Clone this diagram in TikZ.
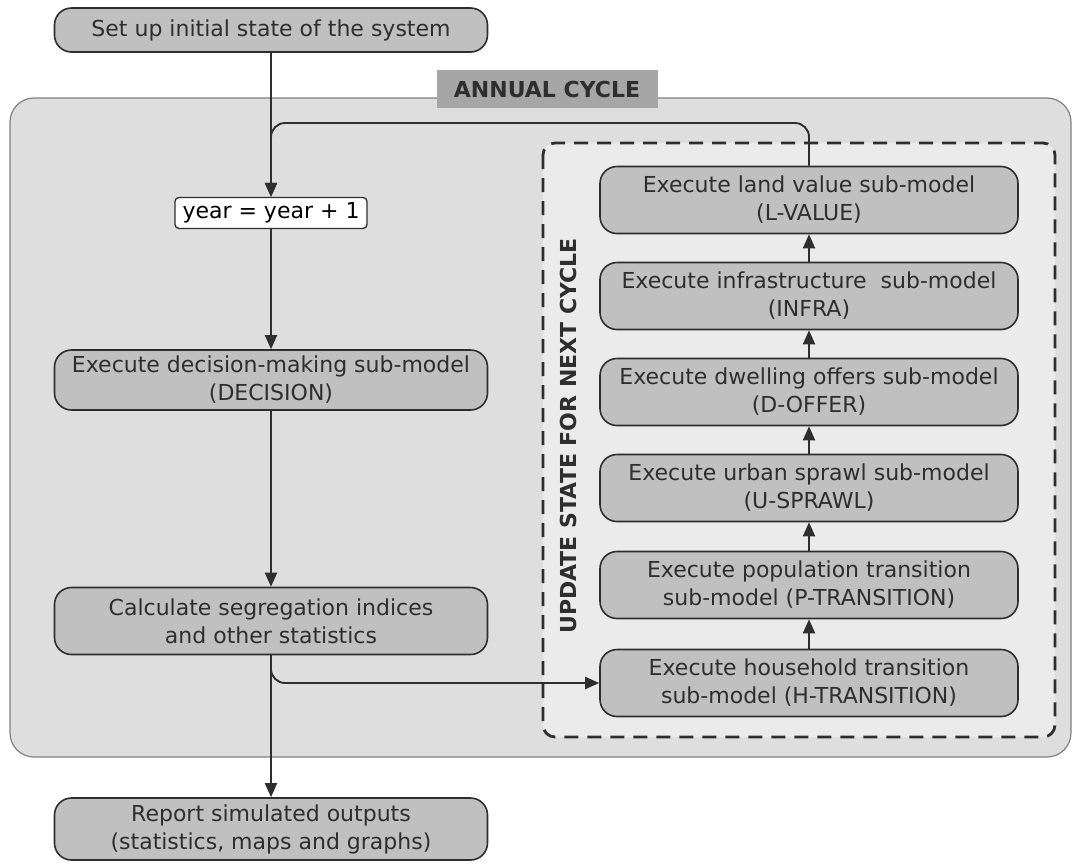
\documentclass[tikz,border=0pt]{standalone}
\usepackage{fontspec}
\setmainfont{DejaVu Sans}
\usetikzlibrary{arrows.meta}
\definecolor{nodegray}{HTML}{C0C0C0}
\definecolor{framegray}{HTML}{DEDEDE}
\definecolor{innergray}{HTML}{EBEBEB}
\definecolor{taggray}{HTML}{A6A6A6}
\definecolor{inkgray}{HTML}{2E2E2E}
\begin{document}
\begin{tikzpicture}[x=1pt, y=-1pt,
    process/.style={draw=inkgray, line width=1.6pt, fill=nodegray,
        rounded corners=17pt, align=center, inner sep=2pt,
        font=\fontsize{22}{28}\selectfont, text=inkgray},
    counter/.style={draw=inkgray, line width=1.3pt, fill=white,
        rounded corners=4pt, minimum width=192pt, minimum height=31pt,
        inner sep=2pt, font=\fontsize{22}{26}\selectfont, text=black},
    tag/.style={fill=taggray, minimum width=221pt, minimum height=38pt,
        font=\fontsize{22}{26}\selectfont\bfseries, text=inkgray},
    edge/.style={draw=inkgray, line width=1.9pt,
        -{Triangle[length=14pt, width=12pt]}}
]
    \useasboundingbox (0,0) rectangle (1075,863);
    % frames
    \draw[draw=gray, line width=1.2pt, fill=framegray, rounded corners=24pt]
        (10,98) rectangle (1071,757);
    \node[tag] (annual) at (547,89) {ANNUAL CYCLE};
    \draw[draw=inkgray, line width=2.8pt, dash pattern=on 14pt off 9pt,
        fill=innergray, rounded corners=12pt] (543,143) rectangle (1055,737);
    \node[rotate=90, font=\fontsize{22}{26}\selectfont\bfseries, text=inkgray]
        (update) at (568,436) {UPDATE STATE FOR NEXT CYCLE};
    % main column
    \node[process, minimum width=433pt, minimum height=44pt] (init) at (271,30)
        {Set up initial state of the system};
    \node[counter] (year) at (271,213) {year = year + 1};
    \node[process, minimum width=433pt, minimum height=60pt] (decision) at (271,380)
        {Execute decision-making sub-model\\(DECISION)};
    \node[process, minimum width=433pt, minimum height=67pt] (calc) at (271,621)
        {Calculate segregation indices\\and other statistics};
    \node[process, minimum width=433pt, minimum height=62pt] (report) at (271,829)
        {Report simulated outputs\\(statistics, maps and graphs)};
    % update column
    \node[process, minimum width=418pt, minimum height=67pt] (lvalue) at (809,200)
        {Execute land value sub-model\\(L-VALUE)};
    \node[process, minimum width=418pt, minimum height=67pt] (infra) at (809,296)
        {Execute infrastructure\ \ sub-model\\(INFRA)};
    \node[process, minimum width=418pt, minimum height=67pt] (doffer) at (809,392)
        {Execute dwelling offers sub-model\\(D-OFFER)};
    \node[process, minimum width=418pt, minimum height=67pt] (usprawl) at (809,488)
        {Execute urban sprawl sub-model\\(U-SPRAWL)};
    \node[process, minimum width=418pt, minimum height=67pt] (ptrans) at (809,585)
        {Execute population transition\\sub-model (P-TRANSITION)};
    \node[process, minimum width=418pt, minimum height=67pt] (htrans) at (809,683)
        {Execute household transition\\sub-model (H-TRANSITION)};
    \coordinate (bend) at (271,123);
    % connectors
    \draw[edge] (init) -- (year);
    \draw[edge, rounded corners=14pt] (lvalue.north) |- (bend) -- (year.north);
    \draw[edge] (year) -- (decision);
    \draw[edge] (decision) -- (calc);
    \draw[edge] (calc) -- (report);
    \draw[edge, rounded corners=14pt] (calc.south) |- (htrans.west);
    \draw[edge] (htrans) -- (ptrans);
    \draw[edge] (ptrans) -- (usprawl);
    \draw[edge] (usprawl) -- (doffer);
    \draw[edge] (doffer) -- (infra);
    \draw[edge] (infra) -- (lvalue);
\end{tikzpicture}
\end{document}
